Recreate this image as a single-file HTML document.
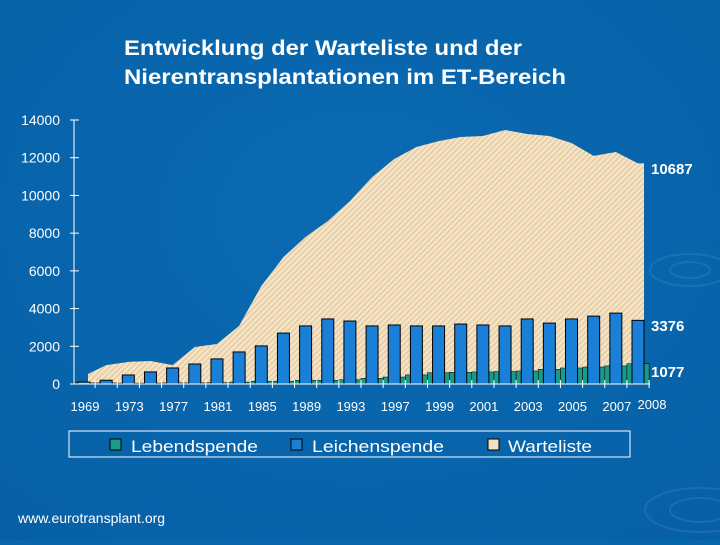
<!DOCTYPE html>
<html><head><meta charset="utf-8"><style>
body{margin:0;width:720px;height:540px;overflow:hidden;background:#0866ac;font-family:"Liberation Sans",sans-serif}
</style></head><body>
<svg id="c" width="720" height="540" xmlns="http://www.w3.org/2000/svg">
<defs>
<radialGradient id="bg" cx="0.5" cy="0.4" r="0.8"><stop offset="0" stop-color="#0a6ab2"/><stop offset="1" stop-color="#0760a6"/></radialGradient>
<pattern id="hatch" width="4" height="4" patternUnits="userSpaceOnUse" patternTransform="rotate(45)">
<rect width="4" height="4" fill="#f6e6cc"/><rect width="2" height="4" fill="#e8cfa6"/></pattern>
</defs>
<rect width="720" height="540" fill="url(#bg)"/>
<g opacity="0.15" fill="none" stroke="#7fb8e6" stroke-width="2">
<ellipse cx="690" cy="270" rx="20" ry="8"/><ellipse cx="690" cy="270" rx="40" ry="16"/><ellipse cx="700" cy="510" rx="30" ry="12"/><ellipse cx="700" cy="510" rx="55" ry="22"/>
</g>
<text x="124" y="55" fill="#fff" font-size="21" font-weight="bold" textLength="398" lengthAdjust="spacingAndGlyphs">Entwicklung der Warteliste und der</text>
<text x="124" y="84" fill="#fff" font-size="21" font-weight="bold" textLength="442" lengthAdjust="spacingAndGlyphs">Nierentransplantationen im ET-Bereich</text>
<g id="plot"></g>
<rect x="69" y="431" width="561" height="26" fill="none" stroke="#fff" stroke-width="1"/>
<g><rect x="110" y="439" width="11" height="11" fill="#1a9a8a" stroke="#000"/><text x="131" y="452" fill="#fff" font-size="17" textLength="127" lengthAdjust="spacingAndGlyphs">Lebendspende</text></g>
<g><rect x="291" y="439" width="11" height="11" fill="#1a7fd6" stroke="#000"/><text x="312" y="452" fill="#fff" font-size="17" textLength="132" lengthAdjust="spacingAndGlyphs">Leichenspende</text></g>
<g><rect x="488" y="439" width="11" height="11" fill="#f3e0c0" stroke="#000"/><text x="508" y="452" fill="#fff" font-size="17" textLength="84" lengthAdjust="spacingAndGlyphs">Warteliste</text></g>
<text x="18" y="523" fill="#fff" font-size="14">www.eurotransplant.org</text>
</svg>
<script>
const categories=["1969","1971","1973","1975","1977","1979","1981","1983","1985","1987","1989","1991","1993","1995","1997","1998","1999","2000","2001","2002","2003","2004","2005","2006","2007","2008"];
const leichenspende=[100,200,480,640,850,1060,1330,1700,2020,2700,3080,3450,3340,3080,3130,3080,3080,3180,3130,3080,3450,3230,3450,3600,3760,3376];
const lebendspende=[60,60,50,50,60,60,70,100,150,150,200,200,220,300,370,480,600,620,640,660,690,780,850,900,960,1077];
const warteliste=[530,1000,1170,1220,1000,1960,2120,3080,5200,6730,7800,8640,9700,10970,11930,12570,12880,13100,13150,13470,13260,13150,12780,12100,12300,11700];
const yTicks=[0,2000,4000,6000,8000,10000,12000,14000];
const xLabelIdx=[0,2,4,6,8,10,12,14,16,18,20,22,24];
const endLabels=["10687","3376","1077"];
const NS="http://www.w3.org/2000/svg";
const g=document.getElementById('plot');
const x0=84,x1=638,y0=384,yTop=120,yMax=14000;
const step=(x1-x0)/(categories.length-1);
const X=i=>x0+i*step;
const Y=v=>y0-(v/yMax)*(y0-yTop);
function mk(t,a){const e=document.createElementNS(NS,t);for(const k in a)e.setAttribute(k,a[k]);g.appendChild(e);return e;}
let d=`M${X(0)+4},${y0} L${X(0)+4},${Y(warteliste[0])}`;
warteliste.forEach((v,i)=>{if(i>0)d+=` L${X(i)},${Y(v)}`;});
d+=` L${X(categories.length-1)+6},${Y(warteliste[warteliste.length-1])} L${X(categories.length-1)+6},${y0} Z`;
const area=mk('path',{d:d,fill:'url(#hatch)'});


lebendspende.forEach((v,i)=>{
 const r=mk('rect',{x:X(i)-step/2,y:Y(v),width:step,height:y0-Y(v),fill:'#1a9a8a',stroke:'#000','stroke-width':0.5});
 
 
});
leichenspende.forEach((v,i)=>{
 const r=mk('rect',{x:X(i)-6,y:Y(v),width:12,height:y0-Y(v),fill:i==0?'#4fc3e8':'#1a7fd6',stroke:'#000','stroke-width':1});
 
 
});
const ya=mk('line',{x1:74,y1:yTop,x2:74,y2:y0,stroke:'#fff','stroke-width':1});


const xa=mk('line',{x1:74,y1:y0,x2:650,y2:y0,stroke:'#fff','stroke-width':1});


yTicks.forEach(v=>{
 const t=mk('line',{x1:70,y1:Y(v),x2:79,y2:Y(v),stroke:'#fff'});
 
 
 const l=mk('text',{x:60,y:Y(v)+5,fill:'#fff','font-size':14,'text-anchor':'end'});
 l.textContent=v;
 
 
});
categories.forEach((c,i)=>{
 const t=mk('line',{x1:X(i)+step/2,y1:y0-4,x2:X(i)+step/2,y2:y0+4,stroke:'#fff'});
 
 
});
xLabelIdx.forEach(i=>{
 const l=mk('text',{x:X(i)+1,y:411,fill:'#fff','font-size':13,'text-anchor':'middle'});
 l.textContent=categories[i];
 
 
});
const last=categories.length-1;
const l8=mk('text',{x:X(last)+14,y:409,fill:'#fff','font-size':13,'text-anchor':'middle'});
l8.textContent=categories[last];


const ly=[174,331,377];
endLabels.forEach((t,k)=>{
 const l=mk('text',{x:651,y:ly[k],fill:'#fff','font-size':15,'font-weight':'bold'});
 l.textContent=t;
 
 
});
</script>
</body></html>
